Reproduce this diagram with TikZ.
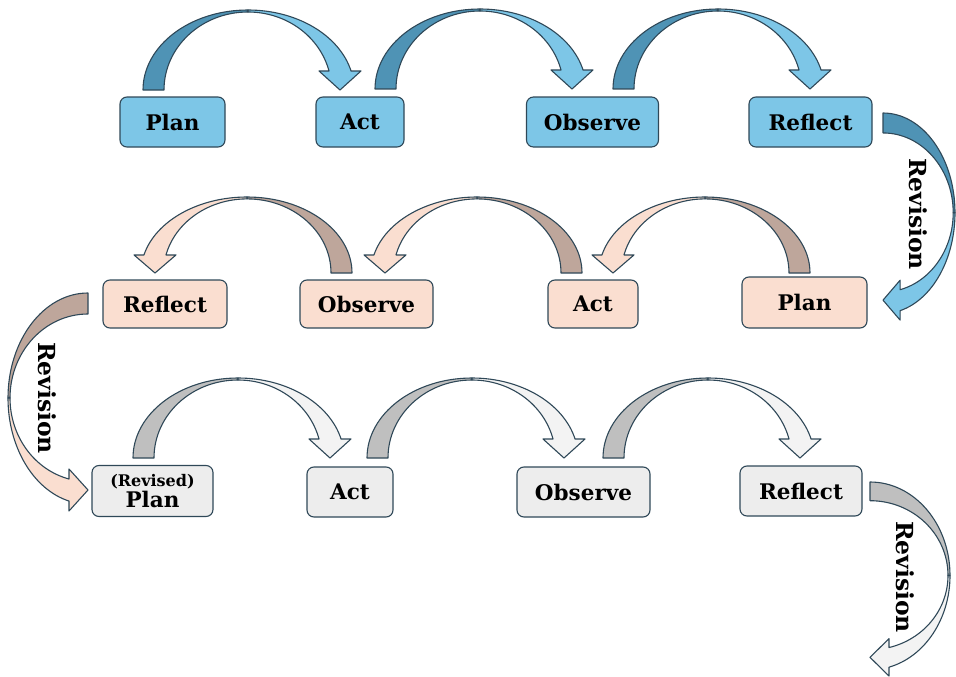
\documentclass[tikz,border=0pt]{standalone}
\usepackage{fontspec}
\setmainfont{DejaVu Serif}
\usetikzlibrary{positioning}

\definecolor{blueBox}{HTML}{7DC6E7}
\definecolor{blueBack}{HTML}{4F93B5}
\definecolor{pinkBox}{HTML}{FADED0}
\definecolor{pinkBack}{HTML}{BEA69B}
\definecolor{greyBox}{HTML}{EDEDED}
\definecolor{greyFront}{HTML}{F3F3F3}
\definecolor{greyBack}{HTML}{BFBFBF}
\definecolor{edgeLine}{HTML}{2F4858}

% twisted block arrow: #1 placement, #2 back colour, #3 front colour
\newcommand{\ribbon}[3]{%
  \begin{scope}[#1]
    \filldraw[band,fill=#2] (0,0) arc[start angle=180,end angle=90,x radius=105,y radius=80]
      -- (105,78) arc[start angle=90,end angle=180,x radius=84,y radius=78] -- cycle;
    \filldraw[band,fill=#3] (105,80) arc[start angle=90,end angle=13.74,x radius=106.1,y radius=80]
      -- (218,19) -- (197,0) -- (176,19) -- (186,19)
      arc[start angle=14.1,end angle=90,x radius=83.5,y radius=78] -- cycle;
  \end{scope}}

\begin{document}
\begin{tikzpicture}[x=1pt,y=1pt]
  \tikzstyle{box}=[draw=edgeLine,line width=1.1pt,rounded corners=7pt,minimum height=50pt,inner sep=0pt,text=black,font=\bfseries\fontsize{21.5}{23}\selectfont]
  \tikzstyle{band}=[draw=edgeLine,line width=1.1pt,line join=round]
  \tikzstyle{rev}=[rotate=-90,text=black,font=\bfseries\fontsize{23.5}{26}\selectfont]
  \useasboundingbox (0,0) rectangle (956,-677);

  % first cycle
  \node[box,fill=blueBox,minimum width=105pt] (plan1) at (172.5,-122) {Plan};
  \node[box,fill=blueBox,minimum width=88pt] (act1) at (360,-122) {Act};
  \node[box,fill=blueBox,minimum width=132pt] (obs1) at (592.5,-122) {Observe};
  \node[box,fill=blueBox,minimum width=123pt] (refl1) at (810.5,-122) {Reflect};
  \ribbon{shift={(143,-90)}}{blueBack}{blueBox}
  \ribbon{shift={(375,-89)}}{blueBack}{blueBox}
  \ribbon{shift={(613,-89)}}{blueBack}{blueBox}

  \ribbon{shift={(883,-113)},rotate=-90,xscale=0.95,yscale=0.9}{blueBack}{blueBox}
  \node[rev] (rev1) at (918,-214) {Revision};

  % second cycle
  \node[box,fill=pinkBox,minimum width=124pt,minimum height=48pt] (refl2) at (165,-304) {Reflect};
  \node[box,fill=pinkBox,minimum width=133pt,minimum height=48pt] (obs2) at (366.5,-304) {Observe};
  \node[box,fill=pinkBox,minimum width=90pt,minimum height=48pt] (act2) at (593,-304) {Act};
  \node[box,fill=pinkBox,minimum width=125pt,minimum height=51pt] (plan2) at (804.5,-302.5) {Plan};
  \ribbon{shift={(810,-273)},xscale=-1,yscale=0.95}{pinkBack}{pinkBox}
  \ribbon{shift={(582,-273)},xscale=-1,yscale=0.95}{pinkBack}{pinkBox}
  \ribbon{shift={(352,-273)},xscale=-1,yscale=0.95}{pinkBack}{pinkBox}

  \ribbon{shift={(88,-293)},rotate=-90,yscale=-1}{pinkBack}{pinkBox}
  \node[rev] (rev2) at (47,-398) {Revision};

  % third cycle
  \node[box,fill=greyBox,minimum width=121pt,minimum height=51pt,align=center] (plan3) at (152.5,-491)
    {{\fontsize{16}{16}\selectfont (Revised)}\\[-2pt]Plan};
  \node[box,fill=greyBox,minimum width=86pt] (act3) at (350,-492) {Act};
  \node[box,fill=greyBox,minimum width=133pt] (obs3) at (583.5,-492) {Observe};
  \node[box,fill=greyBox,minimum width=122pt] (refl3) at (801,-491) {Reflect};
  \ribbon{shift={(133,-458)}}{greyBack}{greyFront}
  \ribbon{shift={(367,-458)}}{greyBack}{greyFront}
  \ribbon{shift={(603,-458)}}{greyBack}{greyFront}

  \ribbon{shift={(870,-482)},rotate=-90,xscale=0.89}{greyBack}{greyFront}
  \node[rev] (rev3) at (905,-577) {Revision};
\end{tikzpicture}
\end{document}
